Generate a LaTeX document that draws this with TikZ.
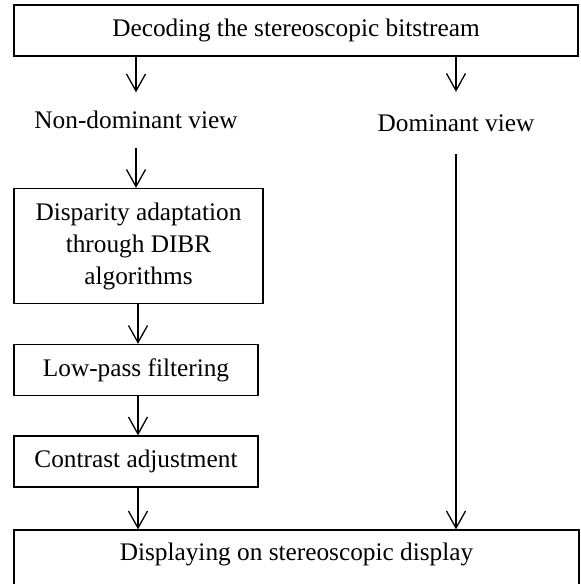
\documentclass[tikz,border=0pt]{standalone}
\usepackage{fontspec}
\setmainfont{Liberation Serif}
\usetikzlibrary{arrows.meta}
\begin{document}
\begin{tikzpicture}[x=1pt,y=-1pt,
  box/.style={draw, line width=1.3pt, inner sep=0pt, font=\fontsize{25.3}{32}\selectfont, align=center},
  lbl/.style={inner sep=0pt, font=\fontsize{25.3}{32}\selectfont},
  arr/.style={-{Straight Barb[length=17pt,width=19pt,line width=1.3pt]}, line width=1.3pt}]
\useasboundingbox (0,0) rectangle (581,584);
\node[box, minimum width=564, minimum height=51] (dec) at (296,30.5) {Decoding the stereoscopic bitstream};
\node[lbl, minimum height=55] (nd) at (136,120) {Non-dominant view};
\node[lbl, minimum height=62] (dom) at (456,123) {Dominant view};
\node[box, minimum width=249, minimum height=115] (dis) at (138.5,246) {Disparity adaptation\\through DIBR\\algorithms};
\node[box, minimum width=244, minimum height=51] (low) at (136,370) {Low-pass filtering};
\node[box, minimum width=244, minimum height=51] (con) at (136,461.5) {Contrast adjustment};
\node[box, minimum width=565, text height=30, text depth=30, minimum height=60] (disp) at (296.5,560) {Displaying on stereoscopic display};
\draw[arr] (dec.south -| nd) -- (nd.north);
\draw[arr] (dec.south -| dom) -- (dom.north);
\draw[arr] (nd.south) -- (nd.south |- dis.north);
\draw[arr] (dis.south -| 138,0) -- (low.north -| 138,0);
\draw[arr] (low.south -| 138,0) -- (con.north -| 138,0);
\draw[arr] (con.south -| 138,0) -- (disp.north -| 138,0);
\draw[arr] (dom.south) -- (dom.south |- disp.north);
\end{tikzpicture}
\end{document}
